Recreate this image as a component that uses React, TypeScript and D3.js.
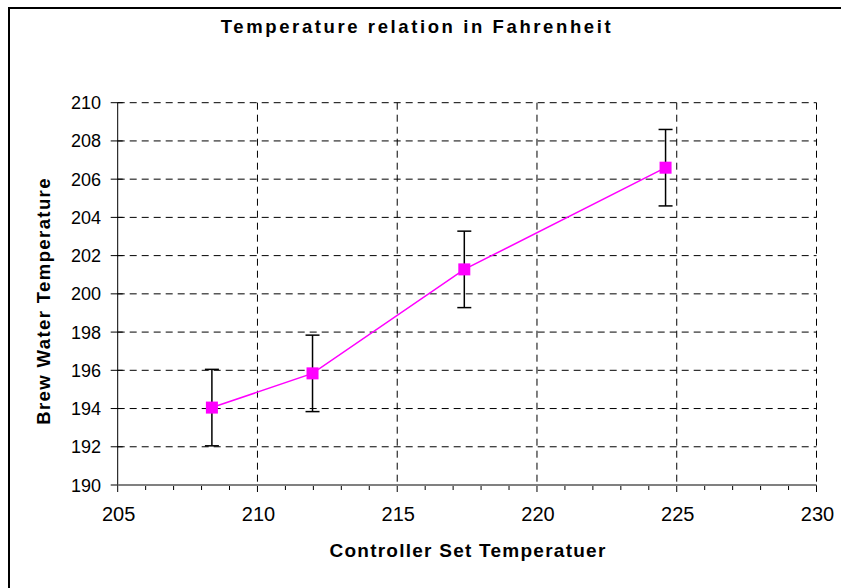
import React from "react";
import * as d3 from "d3";

const setTemps = [208.37, 211.97, 217.4, 224.6];
const brewTemps = [194.05, 195.84, 201.28, 206.6];
const errors = [2, 2, 2, 2];
const xTicks = [205, 210, 215, 220, 225, 230];
const yTicks = [190, 192, 194, 196, 198, 200, 202, 204, 206, 208, 210];
const title = "Temperature relation in Fahrenheit";
const xLabel = "Controller Set Temperatuer";
const yLabel = "Brew Water Temperature";

export default function App() {
  const W = 841, H = 588;
  const left = 117.7, right = 816.5, top = 102.7, bottom = 485;
  const x = d3.scaleLinear().domain([205, 230]).range([left, right]);
  const y = d3.scaleLinear().domain([190, 210]).range([bottom, top]);
  const minor = d3.range(205, 231, 1);
  const line = d3.line<number>().x((_, i) => x(setTemps[i])).y((d) => y(d));
  const font = "'Liberation Sans', Arial, sans-serif";
  return (
    <svg width={W} height={H} style={{ position: "absolute", left: 0, top: 0 }}>
      <rect x={0} y={0} width={W} height={H} fill="#fff" />
      <rect x={9} y={8} width={W + 20} height={H + 20} fill="#fff" stroke="#000" strokeWidth={2} />
      <text x={417} y={33} textAnchor="middle" fontFamily={font} fontWeight="bold" fontSize={18.5} letterSpacing={2.6}>{title}</text>
      {yTicks.filter((t) => t > 190).map((t) => (
        <line key={"gy" + t} x1={left} x2={right} y1={y(t)} y2={y(t)} stroke="#000" strokeWidth={1} strokeDasharray="7,5" />
      ))}
      {xTicks.filter((t) => t > 205).map((t) => (
        <line key={"gx" + t} x1={x(t)} x2={x(t)} y1={top} y2={bottom} stroke="#000" strokeWidth={1} strokeDasharray="7,5" />
      ))}
      <line x1={left} x2={left} y1={top} y2={bottom} stroke="#000" strokeWidth={1} />
      {yTicks.map((t) => (
        <g key={"ty" + t}>
          <line x1={left - 7} x2={left + 5} y1={y(t)} y2={y(t)} stroke="#000" strokeWidth={1} />
          <text x={101} y={y(t) + 6.5} textAnchor="end" fontFamily={font} fontSize={18}>{t}</text>
        </g>
      ))}
      {minor.map((t) => (
        <line key={"mx" + t} x1={x(t)} x2={x(t)} y1={bottom} y2={bottom + (t % 5 === 0 ? 7 : 5)} stroke="#000" strokeWidth={1} />
      ))}
      <line x1={left} x2={right} y1={bottom} y2={bottom} stroke="#808080" strokeWidth={2} />
      {xTicks.map((t) => (
        <text key={"tx" + t} x={x(t) + 1} y={521} textAnchor="middle" fontFamily={font} fontSize={20}>{t}</text>
      ))}
      <text x={468} y={557} textAnchor="middle" fontFamily={font} fontWeight="bold" fontSize={19} letterSpacing={1.25}>{xLabel}</text>
      <text transform={`translate(50,301) rotate(-90)`} textAnchor="middle" fontFamily={font} fontWeight="bold" fontSize={18.5} letterSpacing={1.4}>{yLabel}</text>
      {setTemps.map((s, i) => (
        <g key={"e" + i} stroke="#000" strokeWidth={1.5}>
          <line x1={x(s)} x2={x(s)} y1={y(brewTemps[i] - errors[i])} y2={y(brewTemps[i] + errors[i])} />
          <line x1={x(s) - 7} x2={x(s) + 7} y1={y(brewTemps[i] - errors[i])} y2={y(brewTemps[i] - errors[i])} />
          <line x1={x(s) - 7} x2={x(s) + 7} y1={y(brewTemps[i] + errors[i])} y2={y(brewTemps[i] + errors[i])} />
        </g>
      ))}
      <path d={line(brewTemps) || ""} fill="none" stroke="#FF00FF" strokeWidth={1.5} />
      {setTemps.map((s, i) => (
        <rect key={"m" + i} x={x(s) - 6} y={y(brewTemps[i]) - 6} width={12} height={12} fill="#FF00FF" />
      ))}
    </svg>
  );
}
